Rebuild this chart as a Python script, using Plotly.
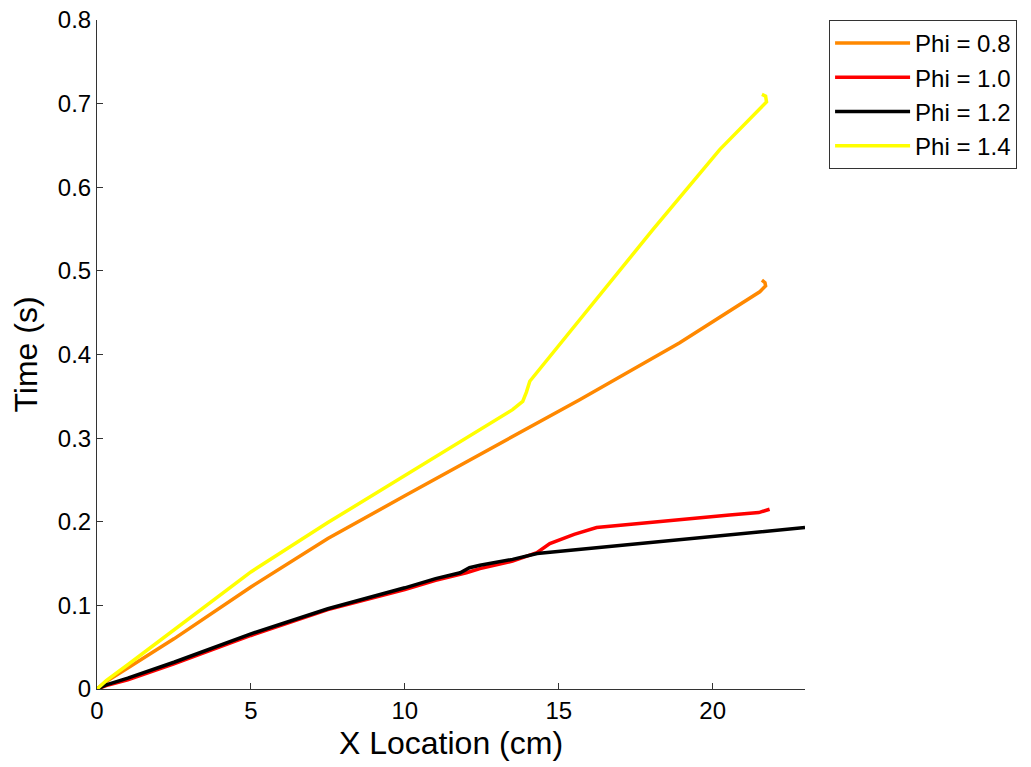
import plotly.graph_objects as go

# Phi = 0.8 (orange)
x_phi08 = [0, 0.3, 1, 2.5, 5, 7.5, 10, 12.44, 15.68, 18.93, 21.53, 21.72, 21.7, 21.6]
t_phi08 = [0, 0.009, 0.025, 0.060, 0.122, 0.180, 0.231, 0.280, 0.346, 0.414, 0.475, 0.482, 0.486, 0.489]

# Phi = 1.0 (red)
x_phi10 = [0, 0.3, 1, 2.5, 5, 7.5, 10, 11, 12, 12.44, 13.5, 14.29, 14.71, 15.5, 16.23, 17.86, 19, 20.55, 21.5, 21.85]
t_phi10 = [0, 0.004, 0.011, 0.030, 0.064, 0.095, 0.119, 0.130, 0.139, 0.144, 0.153, 0.163, 0.174, 0.185, 0.193, 0.199, 0.203, 0.208, 0.211, 0.215]

# Phi = 1.2 (black)
x_phi12 = [0, 0.3, 1, 2.5, 5, 7.5, 10, 11, 11.8, 12.1, 12.44, 13.5, 14.3, 15.68, 17, 18.93, 21.1, 23]
t_phi12 = [0, 0.005, 0.013, 0.032, 0.066, 0.096, 0.121, 0.132, 0.139, 0.145, 0.148, 0.155, 0.162, 0.167, 0.172, 0.179, 0.186, 0.193]

# Phi = 1.4 (yellow)
x_phi14 = [0, 0.3, 1, 2.5, 5, 7.5, 10, 12.44, 13.5, 13.83, 13.95, 14.06, 15.68, 16.98, 18.05, 20.23, 21.53, 21.75, 21.72, 21.6]
t_phi14 = [0, 0.010, 0.029, 0.071, 0.140, 0.199, 0.255, 0.310, 0.334, 0.344, 0.355, 0.368, 0.441, 0.501, 0.549, 0.645, 0.693, 0.702, 0.709, 0.711]

series_names = ["Phi = 0.8", "Phi = 1.0", "Phi = 1.2", "Phi = 1.4"]
series_colors = ["#FF8800", "#FF0000", "#000000", "#FFFF00"]
series_x = [x_phi08, x_phi10, x_phi12, x_phi14]
series_t = [t_phi08, t_phi10, t_phi12, t_phi14]

x_ticks = [0, 5, 10, 15, 20]
y_ticks = [0, 0.1, 0.2, 0.3, 0.4, 0.5, 0.6, 0.7, 0.8]

FONT = "Liberation Sans, Arial, Helvetica, sans-serif"

fig = go.Figure()
for name, color, xs, ts in zip(series_names, series_colors, series_x, series_t):
    fig.add_trace(go.Scatter(x=xs, y=ts, mode="lines", name=name,
                             line=dict(color=color, width=3.5)))

axis_common = dict(showline=True, linecolor="#333333", linewidth=1,
                   ticks="inside", ticklen=6, tickcolor="#333333", tickwidth=1,
                   showgrid=False, zeroline=False, mirror=False, automargin=False,
                   ticklabeloverflow="allow",
                   tickfont=dict(family=FONT, size=24, color="black"))

fig.update_xaxes(range=[0, 23], tickvals=x_ticks,
                 title=dict(text="X Location (cm)", font=dict(family=FONT, size=32, color="black"), standoff=8),
                 **axis_common)
fig.update_yaxes(range=[0, 0.8], tickvals=y_ticks,
                 title=dict(text="Time (s)", font=dict(family=FONT, size=32, color="black"), standoff=15),
                 **axis_common)

fig.update_layout(
    width=1031, height=767,
    margin=dict(l=89, r=234, t=12, b=86),
    paper_bgcolor="white", plot_bgcolor="white",
    font=dict(family=FONT, color="black"),
    legend=dict(x=1.034, y=1, xanchor="left", yanchor="top",
                bordercolor="#333333", borderwidth=1, bgcolor="white",
                font=dict(family=FONT, size=24, color="black"),
                itemwidth=75),
)

fig.write_html("out.html")
